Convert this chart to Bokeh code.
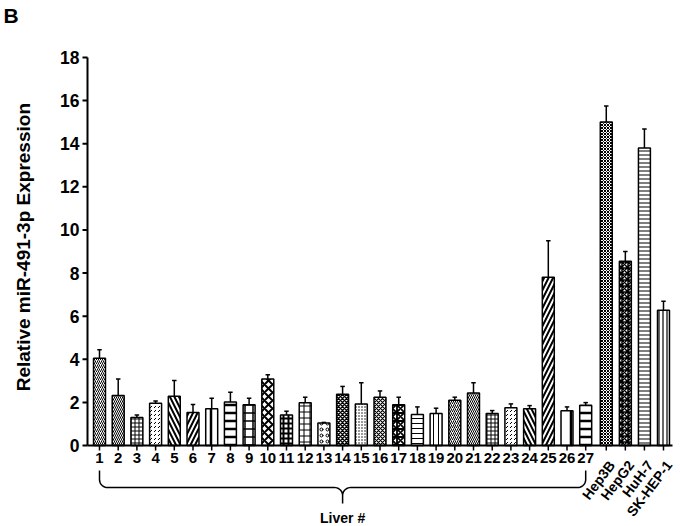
import numpy as np
from bokeh.plotting import figure
from bokeh.models import ColumnDataSource
from bokeh.core.properties import value
from bokeh.embed import file_html
from bokeh.resources import INLINE

# ---------------- data ----------------
patients = [str(i) for i in range(1, 28)]
cell_lines = ["Hep3B", "HepG2", "HuH-7", "SK-HEP-1"]
patient_values = [4.05, 2.32, 1.30, 1.96, 2.29, 1.53, 1.70, 2.02, 1.89, 3.09,
                  1.42, 1.98, 1.04, 2.38, 1.93, 2.24, 1.89, 1.44, 1.48, 2.10,
                  2.43, 1.48, 1.75, 1.70, 7.80, 1.61, 1.87]
patient_errors = [0.39, 0.77, 0.11, 0.10, 0.72, 0.37, 0.49, 0.45, 0.30, 0.19,
                  0.17, 0.26, 0.03, 0.36, 0.98, 0.29, 0.35, 0.35, 0.25, 0.14,
                  0.48, 0.14, 0.18, 0.15, 1.70, 0.18, 0.12]
cell_values = [15.0, 8.55, 13.8, 6.27]
cell_errors = [0.75, 0.45, 0.88, 0.42]
y_ticks = [0, 2, 4, 6, 8, 10, 12, 14, 16, 18]
y_label = "Relative miR-491-3p Expression"
group_label = "Liver #"
panel_letter = "B"

# ---------------- styles ----------------
FONT = "Liberation Sans"
pat_cycle = [("/", 4, 1.0), ("\\", 4, 1.0), ("+", 4, 1.0), (",", 4, 1.0),
             ("\\", 9, 2.0), ("/", 9, 2.0), ("|", 12, 2.5), ("-", 8, 2.5),
             ("+", 8, 1.5), ("x", 8, 2.0), ("+", 5, 2.0), ("+", 6, 1.0),
             ("o", 6, 1.0), ("x", 4, 1.5), (".", 3, 1.0), ("x", 4, 1.2),
             ("*", 8, 1.8), ("-", 5, 1.0), ("|", 5, 1.0)]
cell_pats = [("x", 3, 1.0), ("*", 6, 1.5), ("-", 4, 1.0), ("|", 4, 1.2)]

W, H = 680, 526
px_x = 18.7   # px per x unit
px_y = 21.56  # px per y unit
x_start = 1 - 99 / px_x          # canvas left edge in data units
y_start = -(H - 445) / px_y      # canvas bottom edge in data units
x_range = (x_start, x_start + W / px_x)
y_range = (y_start, y_start + H / px_y)
axis_x = x_start + 87 / px_x     # y-axis position
axis_right = x_start + 672 / px_x
y_max = y_ticks[-1]

# positions
x_pat = np.arange(1, len(patients) + 1, dtype=float)
x_cell = 28.1 + np.arange(len(cell_lines)) * 1.02
xs = np.concatenate([x_pat, x_cell])
vals = np.array(patient_values + cell_values)
errs = np.array(patient_errors + cell_errors)

pats = [pat_cycle[i % len(pat_cycle)] for i in range(len(patients))] + cell_pats

src = ColumnDataSource(dict(
    x=xs, top=vals, err_top=vals + errs,
    hp=[p[0] for p in pats], hs=[p[1] for p in pats], hw=[p[2] for p in pats],
))

p = figure(width=W, height=H, output_backend="svg", toolbar_location=None,
           x_range=x_range, y_range=y_range,
           x_axis_location=None, y_axis_location=None,
           min_border=0, background_fill_color="white", border_fill_color="white")
p.outline_line_color = None
p.xgrid.visible = False
p.ygrid.visible = False

txt = dict(text_font=value(FONT), text_font_style="bold", text_color="black")

# ---- y axis (drawn from the tick list) ----
yt = np.array(y_ticks, dtype=float)
p.segment(x0=[axis_x], y0=[0], x1=[axis_x], y1=[y_max], line_color="black", line_width=2)
p.segment(x0=np.full_like(yt, axis_x - 5 / px_x), y0=yt, x1=np.full_like(yt, axis_x), y1=yt,
          line_color="black", line_width=2)
p.text(x=np.full_like(yt, axis_x - 8 / px_x), y=yt, text=[str(t) for t in y_ticks],
       text_font_size="17.5px", text_align="right", text_baseline="middle", **txt)
p.text(x=[x_start + 23 / px_x], y=[y_max / 2 + 0.2], text=[y_label], angle=np.pi / 2,
       text_font_size="19px", text_align="center", text_baseline="middle", **txt)

# panel letter
p.text(x=[x_start + 3 / px_x], y=[y_range[1] - 3 / px_y], text=[panel_letter],
       text_font_size="21px", text_align="left", text_baseline="top", **txt)

# ---- bars ----
p.vbar(x="x", top="top", bottom=0, width=0.64, source=src,
       fill_color="white", line_color="black", line_width=1.5,
       hatch_pattern="hp", hatch_scale="hs", hatch_weight="hw",
       hatch_color="black")

# error bars (upper only)
p.segment(x0="x", y0="top", x1="x", y1="err_top", source=src,
          line_color="black", line_width=1.5)
cap = 0.12
p.segment(x0=xs - cap, y0=vals + errs, x1=xs + cap, y1=vals + errs,
          line_color="black", line_width=1.5)

# ---- x axis ----
p.segment(x0=[axis_x], y0=[0], x1=[axis_right], y1=[0], line_color="black", line_width=2)
tick_len = 5 / px_y
p.segment(x0=xs, y0=np.zeros_like(xs), x1=xs, y1=np.full_like(xs, -tick_len),
          line_color="black", line_width=1.5)
p.text(x=x_pat, y=np.full_like(x_pat, -0.60), text=patients,
       text_font_size="15px", text_align="center", text_baseline="middle", **txt)
p.text(x=x_cell + 0.3, y=np.full_like(x_cell, -0.78), text=cell_lines,
       angle=np.deg2rad(53), text_font_size="14px", text_align="right",
       text_baseline="middle", **txt)

# ---- brace under patient bars ----
x1, x2 = x_pat[0], x_pat[-1]
xm = (x1 + x2) / 2
y_top = -1.16
y_h = -1.95
y_tip = -2.69
r = 8.0
rx, ry = r / px_x, r / px_y

def arc(cx, cy, a0, a1, n=12):
    t = np.deg2rad(np.linspace(a0, a1, n))
    return cx + rx * np.cos(t), cy + ry * np.sin(t)

parts_x, parts_y = [np.array([x1])], [np.array([y_top])]
for (cx, cy, a0, a1) in [(x1 + rx, y_h + ry, 180, 270), (xm - rx, y_h - ry, 90, 0)]:
    ax, ay = arc(cx, cy, a0, a1); parts_x.append(ax); parts_y.append(ay)
parts_x.append(np.array([xm])); parts_y.append(np.array([y_tip]))
for (cx, cy, a0, a1) in [(xm + rx, y_h - ry, 180, 90), (x2 - rx, y_h + ry, 270, 360)]:
    ax, ay = arc(cx, cy, a0, a1); parts_x.append(ax); parts_y.append(ay)
parts_x.append(np.array([x2])); parts_y.append(np.array([y_top]))
p.line(np.concatenate(parts_x), np.concatenate(parts_y), line_color="black", line_width=1.5)

# group label
p.text(x=[xm], y=[-(517 - 445) / px_y], text=[group_label],
       text_font_size="14px", text_align="center", text_baseline="middle", **txt)

open("out.html", "w").write(file_html(p, INLINE))
